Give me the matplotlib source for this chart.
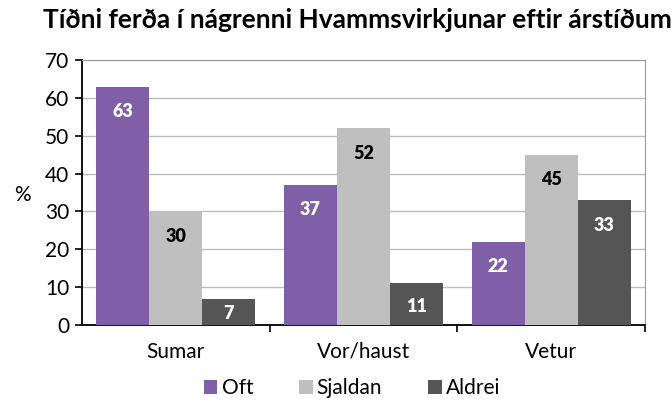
import numpy as np
import matplotlib
matplotlib.use('Agg')
import matplotlib.pyplot as plt

plt.rcParams['font.family'] = ['Lato', 'DejaVu Sans']

seasons = ['Sumar', 'Vor/haust', 'Vetur']
series = ['Oft', 'Sjaldan', 'Aldrei']
oft = [63, 37, 22]
sjaldan = [30, 52, 45]
aldrei = [7, 11, 33]
colors = ['#7F60A8', '#BFBFBF', '#555555']
label_colors = ['white', 'black', 'white']

fig = plt.figure(figsize=(6.72, 4.03), dpi=100)
ax = fig.add_axes([82/672, 1 - 325/403, (645 - 82)/672, (325 - 60)/403])

x = np.arange(len(seasons))
w = 0.283
for i, (name, vals) in enumerate(zip(series, [oft, sjaldan, aldrei])):
    pos = x + (i - 1) * w
    ax.bar(pos, vals, width=w, color=colors[i], label=name, zorder=3)
    for p, v in zip(pos, vals):
        ax.text(p, max(v - 6.6, v * 0.45), str(v), ha='center', va='center',
                fontsize=13, fontweight='heavy', color=label_colors[i], zorder=4)

ax.set_xlim(-0.5, 2.5)
ax.set_ylim(0, 70)
ax.set_yticks(range(0, 71, 10))
ax.yaxis.grid(True, color='#BDBDBD', linewidth=1, zorder=0)
ax.set_xticks(x)
ax.set_xticklabels(seasons, fontsize=15)
ax.tick_params(axis='x', length=0, pad=12)
ax.set_xticks([0.5, 1.5, 2.5], minor=True)
ax.tick_params(axis='x', which='minor', length=5, width=1.2, color='black')
ax.tick_params(axis='y', labelsize=15, length=5, width=1.2, pad=4)

for s in ['top', 'right']:
    ax.spines[s].set_color('#9A9A9A')
for s in ['left', 'bottom']:
    ax.spines[s].set_color('black')
    ax.spines[s].set_linewidth(1.3)

fig.text(22/672, 1 - 195/403, '%', fontsize=15, ha='center', va='center')
fig.text(43/672, 1 - 20/403, 'Tíðni ferða í nágrenni Hvammsvirkjunar eftir árstíðum',
         fontsize=19, fontweight='bold', ha='left', va='center')

fig.legend(loc='center', bbox_to_anchor=(352/672, 1 - 388/403), ncol=3, frameon=False,
           fontsize=15, handlelength=0.65, handleheight=0.65, handletextpad=0.2,
           columnspacing=2.2)

fig.savefig('out.png', dpi=100)
